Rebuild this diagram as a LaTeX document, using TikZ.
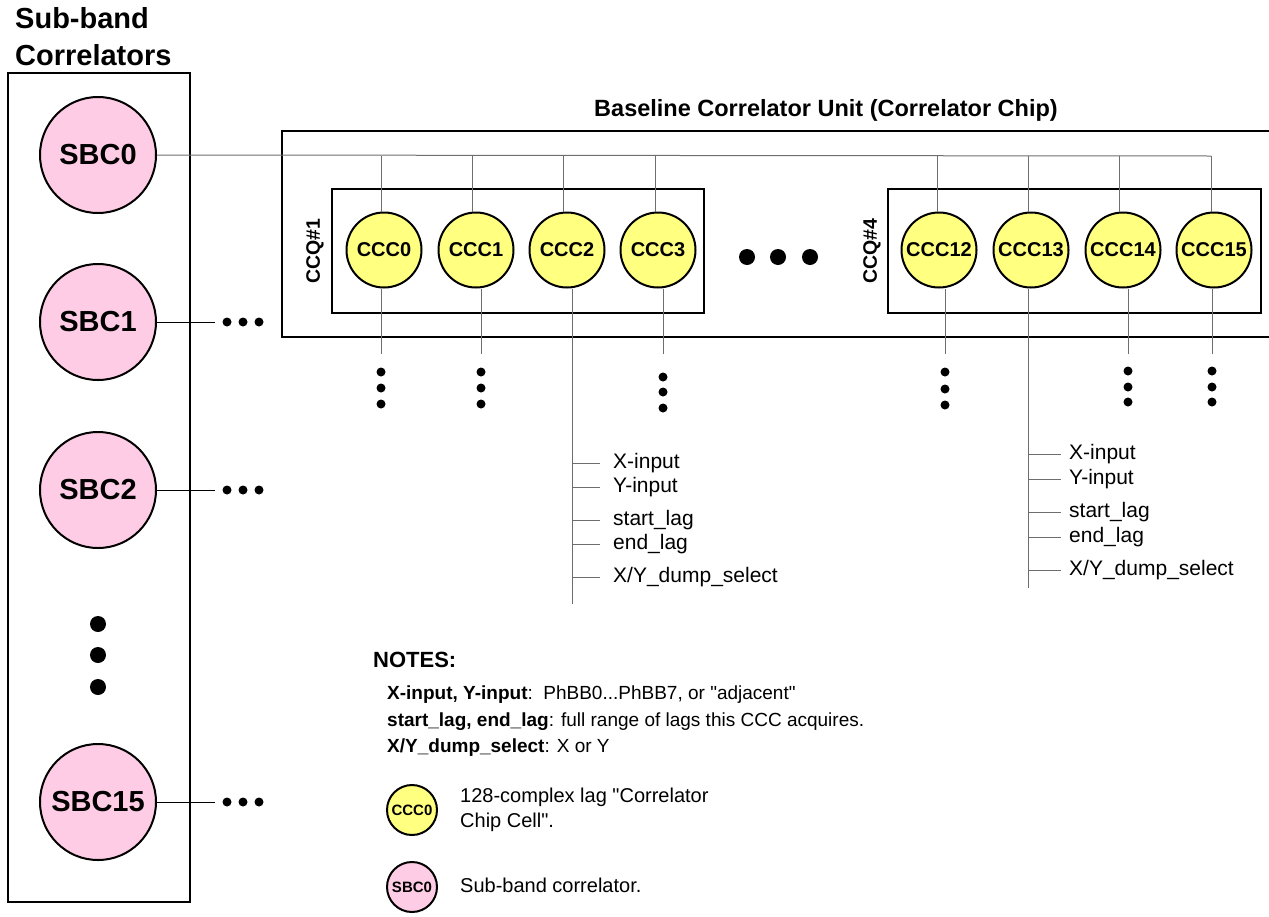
\documentclass[tikz,border=0pt]{standalone}
\usepackage{fontspec}
\setmainfont{Liberation Sans}
\newfontfamily\qfont{Liberation Sans}
\definecolor{sbcpink}{RGB}{255,204,229}
\definecolor{cccyellow}{RGB}{255,255,128}
\definecolor{wiregray}{RGB}{110,110,110}
\newcommand{\dq}{{\qfont"}}
\begin{document}
\begin{tikzpicture}[x=1pt,y=-1pt,
  sbc/.style={circle,draw,line width=2pt,fill=sbcpink,minimum size=116pt,inner sep=0pt,font=\fontsize{29}{30}\selectfont\bfseries},
  ccc/.style={circle,draw,line width=2pt,fill=cccyellow,minimum size=75pt,inner sep=0pt,font=\fontsize{20}{22}\selectfont\bfseries},
  boxline/.style={draw,line width=2.5pt},
  wire/.style={draw=wiregray,line width=1pt},
  bigdot/.style={circle,fill,inner sep=0pt,minimum size=16pt},
  smalldot/.style={circle,fill,inner sep=0pt,minimum size=9pt},
  lbl/.style={anchor=west,inner sep=0pt,font=\fontsize{21}{22}\selectfont},
  note/.style={anchor=west,inner sep=0pt,font=\fontsize{19}{20}\selectfont},
  legsbc/.style={circle,draw,line width=2pt,fill=sbcpink,minimum size=50pt,inner sep=0pt,font=\fontsize{15}{16}\selectfont\bfseries},
  legccc/.style={circle,draw,line width=2pt,fill=cccyellow,minimum size=50pt,inner sep=0pt,font=\fontsize{15}{16}\selectfont\bfseries},
]
\useasboundingbox (0,0) rectangle (1269,916);

% Title
\node (title) [anchor=west,align=left,inner sep=0pt,font=\fontsize{29}{37}\selectfont\bfseries] at (15,37) {Sub-band\\Correlators};

% Sub-band correlator box
\node (sbcbox) [boxline,minimum width=182pt,minimum height=829pt,inner sep=0pt] at (99,487.5) {};
\node (sbc0) [sbc] at (98,155) {SBC0};
\node (sbc1) [sbc] at (98,322) {SBC1};
\node (sbc2) [sbc] at (98,490) {SBC2};
\node (sbc15) [sbc] at (98,802) {SBC15};
\node (vd1) [bigdot] at (98,624) {};
\node (vd2) [bigdot] at (98,655) {};
\node (vd3) [bigdot] at (98,687) {};

% SBC1, SBC2, SBC15 stubs
\foreach \s/\yy in {sbc1/322,sbc2/490,sbc15/802}{
  \coordinate (\s end) at (215,\yy);
  \draw[draw=black,line width=1pt] (\s.east) -- (\s end);
  \node (\s d1) [smalldot] at (227,\yy) {};
  \node (\s d2) [smalldot] at (243,\yy) {};
  \node (\s d3) [smalldot] at (259,\yy) {};
}

% Baseline Correlator Unit box
\node (bcutitle) [font=\fontsize{23.5}{25}\selectfont\bfseries,inner sep=0pt] at (826,110) {Baseline Correlator Unit (Correlator Chip)};
\coordinate (bcutr) at (1275,131);
\coordinate (bcutl) at (282,131);
\coordinate (bcubl) at (282,337);
\coordinate (bcubr) at (1275,337);
\draw[line width=2.5pt] (bcutr) -- (bcutl) -- (bcubl) -- (bcubr);

% CCQ boxes
\node (ccq1) [boxline,minimum width=372pt,minimum height=124pt,inner sep=0pt] at (518,251) {};
\node (ccq4) [boxline,minimum width=373pt,minimum height=124pt,inner sep=0pt] at (1074.5,251) {};
\node (ccq1lbl) [rotate=90,inner sep=0pt,font=\fontsize{19.5}{20}\selectfont\bfseries] at (315,251) {CCQ\#1};
\node (ccq4lbl) [rotate=90,inner sep=0pt,font=\fontsize{19.5}{20}\selectfont\bfseries] at (872,251) {CCQ\#4};

% CCC nodes
\node (ccc0) [ccc] at (384,250) {CCC0};
\node (ccc1) [ccc] at (476,250) {CCC1};
\node (ccc2) [ccc] at (567,250) {CCC2};
\node (ccc3) [ccc] at (658,250) {CCC3};
\node (ccc12) [ccc] at (939,250) {CCC12};
\node (ccc13) [ccc] at (1031,250) {CCC13};
\node (ccc14) [ccc] at (1123,250) {CCC14};
\node (ccc15) [ccc] at (1214,250) {CCC15};

% middle dots
\node (md1) [bigdot] at (747,257) {};
\node (md2) [bigdot] at (778,257) {};
\node (md3) [bigdot] at (810,257) {};

% bus from SBC0
\coordinate (busend) at (1211,156);
\draw[wire] (sbc0.east) -- (busend);
\foreach \c/\xx in {ccc0/381,ccc1/472,ccc2/563,ccc3/655,ccc12/937,ccc13/1028,ccc14/1119,ccc15/1211}{
  \coordinate (\c top) at (\xx,156);
  \draw[wire] (\c top) -- (\c top |- \c.north);
}

% bottom stubs with vertical dots
\foreach \c/\xx/\ya/\yb/\yc in {ccc0/381/372/388/404,ccc1/481/372/388/404,ccc3/663/377/392/408,ccc12/945/372/389/405,ccc14/1128/371/387/402,ccc15/1212/371/387/402}{
  \coordinate (\c end) at (\xx,354);
  \draw[wire] (\c end |- \c.south) -- (\c end);
  \node (\c d1) [smalldot] at (\xx,\ya) {};
  \node (\c d2) [smalldot] at (\xx,\yb) {};
  \node (\c d3) [smalldot] at (\xx,\yc) {};
}

% CCC2 signal lines
\coordinate (ccc2end) at (572,604);
\draw[wire] (ccc2end |- ccc2.south) -- (ccc2end);
\foreach \t/\yy/\n in {{X-input}/463/a,{Y-input}/487/b,{start\_lag}/520/c,{end\_lag}/544/d,{X/Y\_dump\_select}/577/e}{
  \coordinate (ccc2t\n) at (600,\yy);
  \draw[wire] (572,\yy) -- (ccc2t\n);
  \node (ccc2l\n) [lbl] at (613,\yy) {\t};
}

% CCC13 signal lines
\coordinate (ccc13end) at (1028,588);
\draw[wire] (ccc13end |- ccc13.south) -- (ccc13end);
\foreach \t/\yy/\n in {{X-input}/454/a,{Y-input}/479/b,{start\_lag}/512/c,{end\_lag}/537/d,{X/Y\_dump\_select}/570/e}{
  \coordinate (ccc13t\n) at (1061,\yy);
  \draw[wire] (1028,\yy) -- (ccc13t\n);
  \node (ccc13l\n) [lbl] at (1069,\yy) {\t};
}

% Notes
\node (notes) [anchor=west,inner sep=0pt,font=\fontsize{22}{24}\selectfont\bfseries] at (373,660) {NOTES:};
\node (n1) [note] at (387,695) {\textbf{X-input, Y-input}:\ \ PhBB0...PhBB7, or \dq adjacent\dq};
\node (n2) [note] at (387,722) {\textbf{start\_lag, end\_lag}: full range of lags this CCC acquires.};
\node (n3) [note] at (387,748) {\textbf{X/Y\_dump\_select}: X or Y};

% Legend
\node (legccc) [legccc] at (412,810) {CCC0};
\node (legccctext) [anchor=west,align=left,inner sep=0pt,font=\fontsize{20}{25}\selectfont] at (460,810) {128-complex lag \dq Correlator\\Chip Cell\dq.};
\node (legsbc) [legsbc] at (412,887) {SBC0};
\node (legsbctext) [anchor=west,inner sep=0pt,font=\fontsize{20}{22}\selectfont] at (460,885) {Sub-band correlator.};
\end{tikzpicture}
\end{document}
